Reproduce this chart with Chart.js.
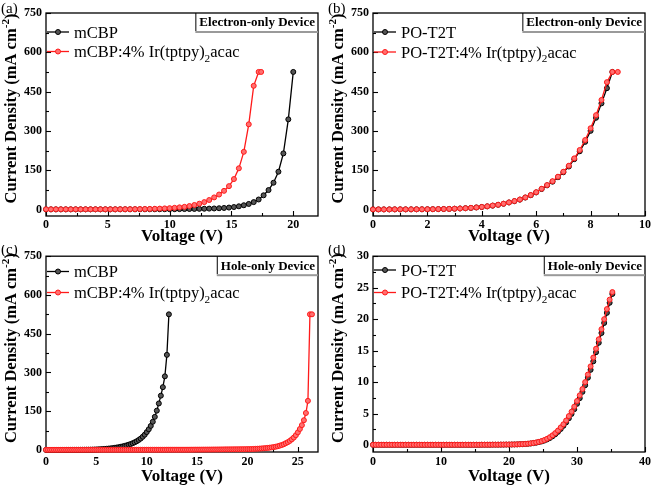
<!DOCTYPE html>
<html><head><meta charset="utf-8">
<script src="https://cdn.jsdelivr.net/npm/chart.js@4.4.1/dist/chart.umd.min.js"></script>
<style>
html,body{margin:0;padding:0;background:#fff;width:654px;height:489px;overflow:hidden}
canvas{position:absolute;display:block}
</style></head><body>
<canvas id="ca" width="327" height="245" style="left:0;top:0"></canvas>
<canvas id="cb" width="327" height="245" style="left:327px;top:0"></canvas>
<canvas id="cc" width="327" height="244" style="left:0;top:245px"></canvas>
<canvas id="cd" width="327" height="244" style="left:327px;top:245px"></canvas>
<script>
// ---------- DATA ----------
// Panel (a): electron-only, mCBP
const voltA = [0,0.4,0.8,1.2,1.6,2,2.4,2.8,3.2,3.6,4,4.4,4.8,5.2,5.6,6,6.4,6.8,7.2,7.6,8,8.4,8.8,9.2,9.6,10,10.4,10.8,11.2,11.6,12,12.4,12.8,13.2,13.6,14,14.4,14.8,15.2,15.6,16,16.4,16.8,17.2,17.6,18,18.4,18.8,19.2,19.6,20];
const jA_host = [0.3,0.3,0.3,0.3,0.3,0.3,0.3,0.3,0.3,0.3,0.4,0.4,0.4,0.4,0.4,0.5,0.5,0.5,0.5,0.6,0.6,0.7,0.7,
  0.8,0.9,1.0,1.1,1.3,1.5,1.7,2.0,2.3,2.7,3.2,3.8,4.6,5.7,7.2,9.2,12,16,21,28,38,54,74,102,144,214,344,525];
const voltA_dop = [0,0.4,0.8,1.2,1.6,2,2.4,2.8,3.2,3.6,4,4.4,4.8,5.2,5.6,6,6.4,6.8,7.2,7.6,8,8.4,8.8,9.2,9.6,10,10.4,10.8,11.2,11.6,12,12.4,12.8,13.2,13.6,14,14.4,14.8,15.2,15.6,16,16.4,16.8,17.2,17.4];
const jA_dop = [0.5,0.5,0.5,0.5,0.5,0.5,0.5,0.5,0.6,0.6,0.6,0.6,0.6,0.6,0.6,
  0.8,0.9,1.0,1.2,1.4,1.7,2.1,2.6,3.2,4.0,5.0,6.3,8.0,10,13,17,22,28,36,46,57,71,89,116,157,220,325,472,525,525];

// Panel (b): electron-only, PO-T2T
const voltB = [0,0.2,0.4,0.6,0.8,1,1.2,1.4,1.6,1.8,2,2.2,2.4,2.6,2.8,3,3.2,3.4,3.6,3.8,4,4.2,4.4,4.6,4.8,5,5.2,5.4,5.6,5.8,6,6.2,6.4,6.6,6.8,7,7.2,7.4,7.6,7.8,8,8.2,8.4,8.6,8.8,9];
const jB_host = [0.2,0.2,0.2,0.2,0.3,0.3,0.3,0.4,0.5,0.6, 0.8,1.0,1.3,1.7,2.2,2.9,3.7,4.7,6.0,7.6,
  9.4,11.8,14.6,17.8,21.7,26.6,31.6,37.5,45.4,54.3, 65,78,92,106,123,142,164,192,222,258, 300,350,405,463,525];
const jB_dop = [0.2,0.2,0.2,0.2,0.3,0.3,0.3,0.4,0.5,0.6, 0.8,1.0,1.3,1.7,2.2,2.9,3.7,4.8,6.1,7.7,
  9.6,12,14.8,18,22,27,32,38,46,55, 66,79,93,108,125,144,167,195,227,265, 310,360,418,486,525,525];

// Panel (c): hole-only, mCBP
const voltC = [0,0.2,0.4,0.6,0.8,1,1.2,1.4,1.6,1.8,
  2,2.2,2.4,2.6,2.8,3,3.2,3.4,3.6,3.8, 4,4.2,4.4,4.6,4.8,5,5.2,5.4,5.6,5.8,
  6,6.2,6.4,6.6,6.8,7,7.2,7.4,7.6,7.8, 8,8.2,8.4,8.6,8.8,9,9.2,9.4,9.6,9.8,
  10,10.2,10.4,10.6,10.8,11,11.2,11.4,11.6,11.8, 12,12.2,12.4,12.6,12.8,13,13.2,13.4,13.6,13.8,
  14,14.2,14.4,14.6,14.8,15,15.2,15.4,15.6,15.8, 16,16.2,16.4,16.6,16.8,17,17.2,17.4,17.6,17.8,
  18,18.2,18.4,18.6,18.8,19,19.2,19.4,19.6,19.8, 20,20.2,20.4,20.6,20.8,21,21.2,21.4,21.6,21.8,
  22,22.2,22.4,22.6,22.8,23,23.2,23.4,23.6,23.8, 24,24.2,24.4,24.6,24.8,25,25.2,25.4,25.6,25.8,
  26,26.2,26.4];
const jC_host = [0.2,0.2,0.2,0.2,0.2,0.2,0.2,0.2,0.2,0.2,
  0.3,0.3,0.3,0.3,0.3,0.4,0.4,0.5,0.6,0.7, 0.8,0.9,1.0,1.2,1.5,1.8,2.2,2.7,3.2,3.8,
  4.5,5.2,6.0,7.0,8.0,9.2,10.5,12,13.7,15.6, 17.7,20,22.8,26,29.5,33.5,38.5,44,51,59,
  69,80,93,109,128,152,180,210,243,285, 368,525];
const jC_dop = [0.5,0.5,0.5,0.5,0.5,0.5,0.5,0.5,0.5,0.5, 0.5,0.5,0.5,0.5,0.5,0.5,0.5,0.5,0.5,0.5,
  0.6,0.6,0.6,0.6,0.6,0.6,0.6,0.6,0.6,0.6, 0.6,0.6,0.6,0.6,0.6,0.6,0.6,0.6,0.6,0.6,
  0.7,0.7,0.7,0.7,0.7,0.7,0.7,0.7,0.7,0.7, 0.8,0.8,0.8,0.8,0.8,0.8,0.8,0.8,0.8,0.8,
  0.9,0.9,0.9,0.9,0.9,0.9,0.9,0.9,0.9,0.9, 1.0,1.0,1.1,1.1,1.2,1.2,1.3,1.3,1.4,1.4,
  1.5,1.5,1.6,1.7,1.7,1.8,1.9,2.0,2.1,2.2, 2.2,2.3,2.4,2.5,2.6,2.7,2.8,2.9,3.0,3.1,
  3.2,3.3,3.6,3.9,4.3,4.7,5.2,5.8,6.4,7.1, 7.9,8.8,9.9,11,12.5,14.3,16.5,19,22,26,
  30,35,41,48,57,68,81,96,115,143, 190,525,525];

// Panel (d): hole-only, PO-T2T
const voltD = [0,0.4,0.8,1.2,1.6,2,2.4,2.8,3.2,3.6, 4,4.4,4.8,5.2,5.6,6,6.4,6.8,7.2,7.6,
  8,8.4,8.8,9.2,9.6,10,10.4,10.8,11.2,11.6, 12,12.4,12.8,13.2,13.6,14,14.4,14.8,15.2,15.6,
  16,16.4,16.8,17.2,17.6,18,18.4,18.8,19.2,19.6, 20,20.4,20.8,21.2,21.6,22,22.4,22.8,23.2,23.6,
  24,24.4,24.8,25.2,25.6,26,26.4,26.8,27.2,27.6, 28,28.4,28.8,29.2,29.6,30,30.4,30.8,31.2,31.6,
  32,32.4,32.8,33.2,33.6,34,34.4,34.8,35.2];
const jD_host = [0.04,0.04,0.04,0.04,0.04,0.04,0.04,0.04,0.04,0.04, 0.04,0.04,0.04,0.04,0.04,0.04,0.04,0.04,0.04,0.04,
  0.04,0.04,0.04,0.04,0.04,0.04,0.04,0.04,0.04,0.04, 0.04,0.04,0.04,0.04,0.04,0.04,0.04,0.04,0.04,0.04,
  0.05,0.05,0.05,0.05,0.06,0.06,0.06,0.07,0.07,0.08, 0.08,0.09,0.1,0.11,0.13,0.15,0.17,0.21,0.25,0.31,
  0.38,0.47,0.58,0.72,0.9,1.12,1.4,1.72,2.1,2.55, 3.05,3.6,4.25,4.95,5.7,6.55,7.45,8.45,9.5,10.7,
  11.95,13.3,14.75,16.25,17.8,19.4,21.0,22.6,24.0];
const jD_dop = [0.05,0.05,0.05,0.05,0.05,0.05,0.05,0.05,0.05,0.05, 0.05,0.05,0.05,0.05,0.05,0.05,0.05,0.05,0.05,0.05,
  0.05,0.05,0.05,0.05,0.05,0.05,0.05,0.05,0.05,0.05, 0.05,0.05,0.05,0.05,0.05,0.05,0.05,0.05,0.05,0.05,
  0.06,0.06,0.06,0.06,0.07,0.07,0.07,0.08,0.08,0.09, 0.09,0.1,0.1,0.12,0.14,0.16,0.19,0.23,0.28,0.34,
  0.42,0.52,0.64,0.8,1.0,1.25,1.55,1.9,2.3,2.8, 3.3,3.9,4.6,5.3,6.1,7.0,7.9,8.9,10.0,11.2,
  12.5,13.9,15.3,16.8,18.4,20.0,21.6,23.1,24.3];

// Labels and ticks
const panelLetters = ['(a)','(b)','(c)','(d)'];
const namesA = ['mCBP','mCBP:4% Ir(tptpy)₂acac'];
const namesB = ['PO-T2T','PO-T2T:4% Ir(tptpy)₂acac'];
const deviceLabels = ['Electron-only Device','Electron-only Device','Hole-only Device','Hole-only Device'];
const xTitle = 'Voltage (V)';
const yTitle = 'Current Density (mA cm⁻²)';
const xTicksA = [0,5,10,15,20], xMinorA = [2.5,7.5,12.5,17.5];
const xTicksB = [0,2,4,6,8,10], xMinorB = [1,3,5,7,9];
const xTicksC = [0,5,10,15,20,25], xMinorC = [2.5,7.5,12.5,17.5,22.5];
const xTicksD = [0,10,20,30,40], xMinorD = [5,15,25,35];
const yTicksJ = [0,150,300,450,600,750], yMinorJ = [75,225,375,525,675];
const yTicksD = [0,5,10,15,20,25,30], yMinorD = [2.5,7.5,12.5,17.5,22.5,27.5];

// ---------- RENDERING ----------
const FONT = "'Liberation Serif','Times New Roman',serif";
const BLACK = {line:'#000000', fill:'#555555'};
const RED = {line:'#ff1a1a', fill:'#ff7070'};

function segs(text){
  const sub = '₀₁₂₃₄₅₆₇₈₉', supMap = {'⁻':'-','⁰':'0','¹':'1','²':'2','³':'3','⁴':'4','⁵':'5','⁶':'6','⁷':'7','⁸':'8','⁹':'9'};
  const out = [];
  for (const ch of text){
    let type='n', c=ch;
    if (sub.includes(ch)){type='sub'; c=String(sub.indexOf(ch));}
    else if (supMap[ch]!==undefined){type='sup'; c=supMap[ch];}
    if (out.length && out[out.length-1].type===type) out[out.length-1].t+=c; else out.push({type,t:c});
  }
  return out;
}
function richWidth(ctx, text, size, weight){
  let w=0;
  for (const s of segs(text)){
    ctx.font = weight+' '+(s.type==='n'?size:size*0.68)+'px '+FONT;
    w += ctx.measureText(s.t).width;
  }
  return w;
}
function drawRich(ctx, text, x, y, size, weight){
  ctx.textBaseline='alphabetic'; ctx.textAlign='left';
  let cx=x;
  for (const s of segs(text)){
    const sz = s.type==='n'?size:size*0.68;
    const dy = s.type==='sub'? size*0.28 : (s.type==='sup'? -size*0.4 : 0);
    ctx.font = weight+' '+sz+'px '+FONT;
    ctx.fillText(s.t, cx, y+dy);
    cx += ctx.measureText(s.t).width;
  }
}
function marker(ctx, x, y, col){
  ctx.beginPath(); ctx.arc(x,y,2.5,0,Math.PI*2);
  ctx.fillStyle=col.fill; ctx.fill(); ctx.lineWidth=1; ctx.strokeStyle=col.line; ctx.stroke();
}

function makePanel(p){
  const plugin = {
    id:'frame'+p.idx,
    beforeDatasetsDraw(chart){
      const {ctx, chartArea:{left,right,top,bottom}, scales:{x,y}} = chart;
      ctx.save();
      ctx.strokeStyle='#000'; ctx.lineWidth=1.3;
      ctx.strokeRect(left, top, right-left, bottom-top);
      ctx.lineWidth=1.1;
      const tk=(x1,y1,x2,y2)=>{ctx.beginPath();ctx.moveTo(x1,y1);ctx.lineTo(x2,y2);ctx.stroke();};
      p.xTicks.forEach(v=>{const px=Math.round(x.getPixelForValue(v))+0.5; tk(px,bottom,px,bottom-5);});
      p.xMinor.forEach(v=>{const px=Math.round(x.getPixelForValue(v))+0.5; tk(px,bottom,px,bottom-3);});
      p.yTicks.forEach(v=>{const py=Math.round(y.getPixelForValue(v))+0.5; tk(left,py,left+5,py);});
      p.yMinor.forEach(v=>{const py=Math.round(y.getPixelForValue(v))+0.5; tk(left,py,left+3,py);});
      ctx.restore();
    },
    afterDraw(chart){
      const {ctx, chartArea:{left,right,top,bottom}} = chart;
      ctx.save();
      ctx.fillStyle='#000';
      // panel letter
      ctx.font='15px '+FONT; ctx.textBaseline='alphabetic'; ctx.textAlign='left';
      ctx.fillText(p.letter, 1, p.letterY);
      // y title (rotated)
      const ts=16.5;
      const w = richWidth(ctx, yTitle, ts, 'bold');
      ctx.save();
      ctx.translate(16, (top+bottom)/2 + p.yTitleShift);
      ctx.rotate(-Math.PI/2);
      ctx.fillStyle='#000';
      drawRich(ctx, yTitle, -w/2, 0, ts, 'bold');
      ctx.restore();
      // legend
      p.series.forEach((s,i)=>{
        const ly = p.legendY[i];
        ctx.strokeStyle=s.col.line; ctx.lineWidth=1.3;
        ctx.beginPath(); ctx.moveTo(left+1, ly); ctx.lineTo(left+23, ly); ctx.stroke();
        marker(ctx, left+12, ly, s.col);
        ctx.fillStyle='#000';
        drawRich(ctx, s.name, left+28, ly+5.5, 16.5, 'normal');
      });
      // device annotation box
      ctx.font='bold 13px '+FONT;
      const tw = ctx.measureText(p.device).width;
      const bx = right-3-tw-4, by=top, bh=18;
      ctx.fillStyle='#fff'; ctx.fillRect(bx, by+1, right-bx-1, bh-1);
      ctx.strokeStyle='#000'; ctx.lineWidth=1;
      ctx.beginPath(); ctx.moveTo(bx+0.5, by); ctx.lineTo(bx+0.5, by+bh); ctx.stroke();
      ctx.fillStyle='#9a9a9a'; ctx.fillRect(bx, by+bh, right-bx, 2);
      ctx.fillStyle='#000'; ctx.textAlign='right'; ctx.textBaseline='middle';
      ctx.fillText(p.device, right-3, top+10);
      ctx.restore();
    }
  };
  const datasets = p.series.map((s,i)=>({
    label:s.name,
    data:s.x.map((v,k)=>({x:v,y:s.y[k]})),
    borderColor:s.col.line, backgroundColor:s.col.fill,
    pointBackgroundColor:s.col.fill, pointBorderColor:s.col.line,
    pointRadius:2.5, pointBorderWidth:1, borderWidth:1.3,
    showLine:true, tension:0, clip:false, order:p.series.length-i
  }));
  new Chart(document.getElementById(p.id), {
    type:'scatter',
    data:{datasets},
    options:{
      responsive:false, animation:false, events:[],
      layout:{padding:{left:0,right:p.padR,top:p.padT,bottom:0}},
      plugins:{legend:{display:false}, tooltip:{enabled:false}},
      scales:{
        x:{type:'linear', min:p.xMin, max:p.xMax,
          afterFit:s=>{s.height=p.xH;},
          afterBuildTicks:s=>{s.ticks=p.xTicks.map(v=>({value:v}));},
          grid:{display:false, drawTicks:false, tickLength:0}, border:{display:false},
          ticks:{color:'#000', font:{family:FONT,size:12,weight:'bold'}, padding:p.xTickPad, maxRotation:0, autoSkip:false},
          title:{display:true, text:xTitle, color:'#000', font:{family:FONT,size:17,weight:'bold',lineHeight:1}, padding:{top:0,bottom:p.xTitlePad}}
        },
        y:{type:'linear', min:p.yMin, max:p.yMax,
          afterFit:s=>{s.width=46;},
          afterBuildTicks:s=>{s.ticks=p.yTicks.map(v=>({value:v}));},
          grid:{display:false, drawTicks:false, tickLength:0}, border:{display:false},
          ticks:{color:'#000', font:{family:FONT,size:12,weight:'bold'}, padding:4, autoSkip:false}
        }
      }
    },
    plugins:[plugin]
  });
}

makePanel({idx:0,id:'ca',letter:panelLetters[0],letterY:13,device:deviceLabels[0],
  padT:13,padR:9,xH:29,xTickPad:2,xTitlePad:0,yTitleShift:-6,
  xMin:0,xMax:22,yMin:-25,yMax:750,xTicks:xTicksA,xMinor:xMinorA,yTicks:yTicksJ,yMinor:yMinorJ,
  legendY:[32,51.5],
  series:[{name:namesA[0],x:voltA,y:jA_host,col:BLACK},{name:namesA[1],x:voltA_dop,y:jA_dop,col:RED}]});
makePanel({idx:1,id:'cb',letter:panelLetters[1],letterY:13,device:deviceLabels[1],
  padT:13,padR:9,xH:29,xTickPad:2,xTitlePad:0,yTitleShift:-6,
  xMin:0,xMax:10,yMin:-25,yMax:750,xTicks:xTicksB,xMinor:xMinorB,yTicks:yTicksJ,yMinor:yMinorJ,
  legendY:[32,52],
  series:[{name:namesB[0],x:voltB.slice(0,45),y:jB_host,col:BLACK},{name:namesB[1],x:voltB,y:jB_dop,col:RED}]});
makePanel({idx:2,id:'cc',letter:panelLetters[2],letterY:9,device:deviceLabels[2],
  padT:9,padR:9,xH:37,xTickPad:3,xTitlePad:4,yTitleShift:-6,
  xMin:0,xMax:27,yMin:-8,yMax:750,xTicks:xTicksC,xMinor:xMinorC,yTicks:yTicksJ,yMinor:yMinorJ,
  legendY:[26.5,47.5],
  series:[{name:namesA[0],x:voltC.slice(0,62),y:jC_host,col:BLACK},{name:namesA[1],x:voltC,y:jC_dop,col:RED}]});
makePanel({idx:3,id:'cd',letter:panelLetters[3],letterY:9,device:deviceLabels[3],
  padT:9,padR:9,xH:37,xTickPad:3,xTitlePad:4,yTitleShift:-6,
  xMin:0,xMax:40,yMin:-1.1,yMax:30,xTicks:xTicksD,xMinor:xMinorD,yTicks:yTicksD,yMinor:yMinorD,
  legendY:[25,47.5],
  series:[{name:namesB[0],x:voltD,y:jD_host,col:BLACK},{name:namesB[1],x:voltD,y:jD_dop,col:RED}]});
</script>
</body></html>
